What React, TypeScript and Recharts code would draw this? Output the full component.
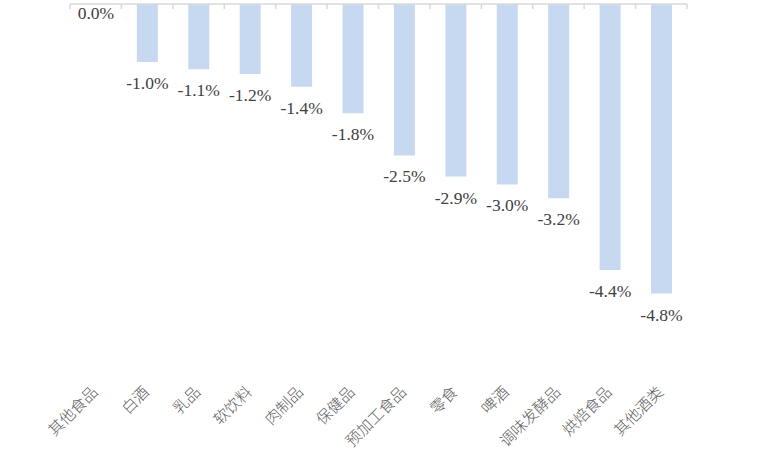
import { Bar, BarChart, LabelList, XAxis, YAxis } from "recharts";

// page has an 8px default margin; the chart fills the whole window
document.body.style.margin = "0";

const categories = [
  "其他食品",
  "白酒",
  "乳品",
  "软饮料",
  "肉制品",
  "保健品",
  "预加工食品",
  "零食",
  "啤酒",
  "调味发酵品",
  "烘焙食品",
  "其他酒类",
];

// % change
const changes = [0, -0.96, -1.08, -1.16, -1.37, -1.81, -2.51, -2.86, -2.99, -3.22, -4.41, -4.8];

const valueDomain = [-6, 0];

const rows = categories.map((name, i) => ({ name, change: changes[i] }));

const BAR = "#c6d9f0";
const LINE = "#d9d9d9";

function CategoryTick({ x, y, payload }: { x?: number; y?: number; payload?: { value: string } }) {
  const tx = (x ?? 0) - 2;
  const ty = (y ?? 0) + 22;
  return (
    <text
      x={tx}
      y={ty}
      textAnchor="end"
      dominantBaseline="central"
      transform={`rotate(-45, ${tx}, ${ty})`}
      style={{ fontFamily: "Noto Sans CJK SC", fontSize: 15.5, fontWeight: 300 }}
      fill="#606060"
    >
      {payload?.value}
    </text>
  );
}

// Excel puts the small tick marks between categories, hanging off the zero line
function BoundaryTick(props: any) {
  const { x, y, width, visibleTicksCount, index } = props;
  const half = width / visibleTicksCount / 2;
  const marks = [x - half];
  if (index === visibleTicksCount - 1) marks.push(x + half);
  return (
    <g>
      {marks.map((mx) => (
        <line key={mx} x1={mx} x2={mx} y1={y} y2={y + 5} stroke={LINE} strokeWidth={1.5} />
      ))}
    </g>
  );
}

// Excel-style "outside end" label: sits under a negative bar
function ValueLabel(props: any) {
  const { x, y, width, height, value } = props;
  const bottom = Math.max(y, y + height);
  const gap = Math.abs(value) < 0.05 ? 9 : 21;
  return (
    <text
      x={x + width / 2}
      y={bottom + gap}
      textAnchor="middle"
      dominantBaseline="central"
      style={{ fontFamily: "Liberation Serif", fontSize: 17.5 }}
      fill="#404040"
    >
      {`${Number(value).toFixed(1)}%`}
    </text>
  );
}

export default function App() {
  return (
    <BarChart
      width={768}
      height={468}
      data={rows}
      margin={{ top: 4, right: 81, bottom: 0, left: 70 }}
      barCategoryGap="30%"
    >
      <XAxis
        xAxisId="cat"
        dataKey="name"
        orientation="bottom"
        height={102}
        axisLine={false}
        tickLine={false}
        tickSize={0}
        tickMargin={0}
        interval={0}
        tick={<CategoryTick />}
      />
      <XAxis
        xAxisId="frame"
        dataKey="name"
        orientation="top"
        mirror
        height={1}
        interval={0}
        tickSize={0}
        tickMargin={0}
        tickLine={false}
        tick={<BoundaryTick />}
        axisLine={{ stroke: LINE, strokeWidth: 1.5 }}
      />
      <YAxis hide domain={valueDomain} />
      <Bar xAxisId="cat" dataKey="change" fill={BAR} minPointSize={0.5} isAnimationActive={false}>
        <LabelList dataKey="change" content={<ValueLabel />} />
      </Bar>
    </BarChart>
  );
}
